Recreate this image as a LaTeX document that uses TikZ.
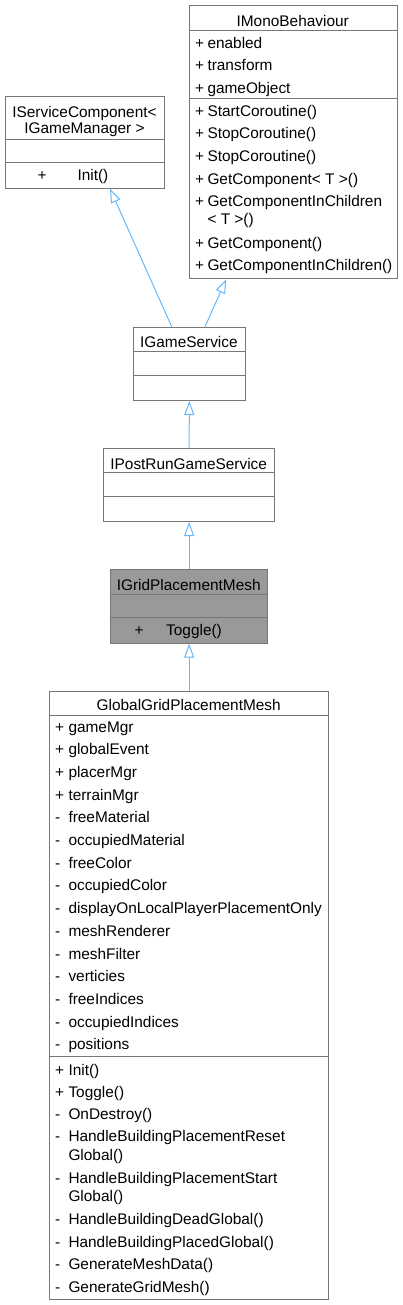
\documentclass[tikz,border=0pt]{standalone}
\usepackage{fontspec}
\setmainfont{Liberation Sans}
\usetikzlibrary{arrows.meta,calc}
\definecolor{bordergray}{HTML}{777777}
\definecolor{edgeblue}{HTML}{63B8FF}
\definecolor{hlfill}{HTML}{999999}
\tikzset{
  classbox/.style={draw=bordergray, line width=1pt, fill=white, inner sep=0pt, anchor=north west, rectangle},
  divline/.style={draw=bordergray, line width=1pt},
  txt/.style={font=\fontsize{15.4}{18}\selectfont, inner sep=0pt, anchor=base west, text=black},
  ttl/.style={txt, anchor=base},
  inh/.style={draw=edgeblue, line width=1pt, -{Triangle[open, length=14pt, width=10pt, line width=1pt]}},
}
\begin{document}
\begin{tikzpicture}[x=1pt,y=-1pt]
\useasboundingbox (0,0) rectangle (402,1305);

% ---------------- IServiceComponent< IGameManager >
\node[classbox, minimum width=159pt, minimum height=91.7pt] (isc) at (5,96) {};
\draw[divline] (5,139.3) -- (164,139.3);
\draw[divline] (5,162.7) -- (164,162.7);
\node[ttl] (iscT1) at (84.5,117.5) {IServiceComponent<};
\node[ttl] (iscT2) at (84.5,134) {IGameManager >};
\node[txt] (iscS1) at (37.5,181) {+};
\node[txt] (iscM1) at (77.3,181) {Init()};

% ---------------- IMonoBehaviour
\node[classbox, minimum width=208pt, minimum height=273.3pt] (imb) at (188.7,5) {};
\draw[divline] (188.7,31) -- (396.7,31);
\draw[divline] (188.7,98.7) -- (396.7,98.7);
\node[ttl] (imbT) at (292.7,26.7) {IMonoBehaviour};
\foreach \y/\t [count=\i] in {48.3/enabled, 71/transform, 93.3/gameObject,
    116.3/StartCoroutine(), 139/StopCoroutine(), 161.5/StopCoroutine(),
    184.5/GetComponent< T >(), 206.7/GetComponentInChildren,
    248.3/GetComponent(), 270.7/GetComponentInChildren()} {
  \node[txt] (imbS\i) at (195,\y) {+};
  \node[txt] (imbM\i) at (207.3,\y) {\t};
}
\node[txt] (imbW1) at (207.3,225) {< T >()};

% ---------------- IGameService
\node[classbox, minimum width=112.3pt, minimum height=73.3pt] (gs) at (132.7,326.7) {};
\draw[divline] (132.7,351.7) -- (245,351.7);
\draw[divline] (132.7,375) -- (245,375);
\node[ttl] (gsT) at (188.9,347) {IGameService};

% ---------------- IPostRunGameService
\node[classbox, minimum width=170.7pt, minimum height=73.3pt] (pr) at (103.3,447.7) {};
\draw[divline] (103.3,472.7) -- (274,472.7);
\draw[divline] (103.3,496) -- (274,496);
\node[ttl] (prT) at (188.7,469) {IPostRunGameService};

% ---------------- IGridPlacementMesh (highlighted)
\node[classbox, fill=hlfill, minimum width=157.3pt, minimum height=73.3pt] (ig) at (110,569.3) {};
\draw[divline] (110,594) -- (267.3,594);
\draw[divline] (110,617.3) -- (267.3,617.3);
\node[ttl] (igT) at (188.7,590.5) {IGridPlacementMesh};
\node[txt] (igS1) at (134.5,635) {+};
\node[txt] (igM1) at (166,635) {Toggle()};

% ---------------- GlobalGridPlacementMesh
\node[classbox, minimum width=279.3pt, minimum height=608.6pt] (gg) at (49,690.7) {};
\draw[divline] (49,715.7) -- (328.3,715.7);
\draw[divline] (49,1056.7) -- (328.3,1056.7);
\node[ttl] (ggT) at (188.7,710) {GlobalGridPlacementMesh};
\foreach \s/\t [count=\i] in {+/gameMgr, +/globalEvent, +/placerMgr, +/terrainMgr,
    -/freeMaterial, -/occupiedMaterial, -/freeColor, -/occupiedColor,
    -/displayOnLocalPlayerPlacementOnly, -/meshRenderer, -/meshFilter,
    -/verticies, -/freeIndices, -/occupiedIndices, -/positions} {
  \node[txt] (ggAS\i) at (55,{732+22.7*(\i-1)}) {\s};
  \node[txt] (ggA\i) at (68.3,{732+22.7*(\i-1)}) {\t};
}
\foreach \y/\s/\t [count=\i] in {1075/+/Init(), 1097/+/Toggle(), 1119/-/OnDestroy(),
    1141.7/-/HandleBuildingPlacementReset, 1183.3/-/HandleBuildingPlacementStart,
    1224.5/-/HandleBuildingDeadGlobal(), 1247/-/HandleBuildingPlacedGlobal(),
    1269.5/-/GenerateMeshData(), 1292/-/GenerateGridMesh()} {
  \node[txt] (ggMS\i) at (55,\y) {\s};
  \node[txt] (ggM\i) at (68.3,\y) {\t};
}
\node[txt] (ggW1) at (68.3,1160) {Global()};
\node[txt] (ggW2) at (68.3,1201.7) {Global()};

% ---------------- inheritance connectors
\draw[inh] ($(gs.north west)+(39,0)$) -- ($(isc.south west)+(105,0)$);
\draw[inh] ($(gs.north west)+(72.3,0)$) -- ($(imb.south west)+(37.5,0)$);
\draw[inh] (pr.north) -- (gs.south);
\draw[inh] (ig.north) -- (pr.south);
\draw[inh] (gg.north) -- (ig.south);
\end{tikzpicture}
\end{document}
